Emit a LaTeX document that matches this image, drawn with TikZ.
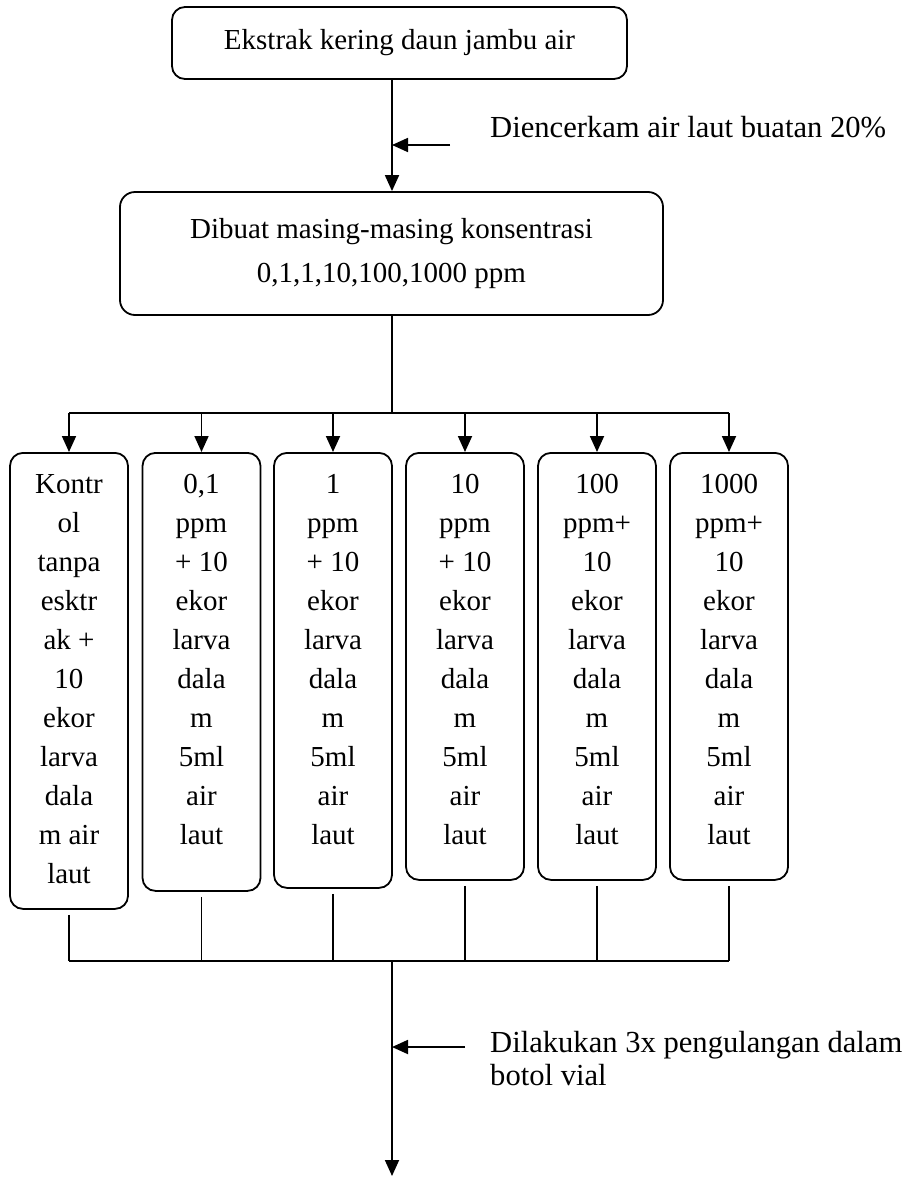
\documentclass[tikz,border=0pt]{standalone}
\usepackage{fontspec}
\setmainfont{Liberation Serif}
\usetikzlibrary{arrows.meta}
\tikzset{
  box/.style={draw, line width=1.8pt, rounded corners=13pt, inner sep=0pt},
  colbox/.style={box, minimum width=118pt, anchor=north},
  coltext/.style={align=center, inner sep=0pt, anchor=north, font=\fontsize{29}{39}\selectfont},
  boxtext/.style={font=\fontsize{29}{44}\selectfont},
  sidetext/.style={font=\fontsize{30.6}{33}\selectfont, align=left, inner sep=0pt},
  conn/.style={line width=1.8pt},
  stub/.style={line width=1.3pt},
  arr/.style={line width=1.8pt, -{Triangle[length=16pt,width=14pt]}},
}
\begin{document}
\begin{tikzpicture}[x=1pt,y=-1pt]
\useasboundingbox (0,0) rectangle (911,1178);

% top box
\node[box, minimum width=455pt, minimum height=72pt, boxtext] (top) at (399.5,43) {Ekstrak kering daun jambu air};
\coordinate (spine) at (392,0);
% second box
\node[box, minimum width=543pt, minimum height=123pt, boxtext, align=center, rounded corners=15pt] (mid) at (391.5,253.5) {Dibuat masing-masing konsentrasi\\0,1,1,10,100,1000 ppm};

\draw[arr] (top.south -| spine) -- (mid.north -| spine);

% side label 1
\node[sidetext, anchor=base west] (lab1) at (490,137) {Diencerkam air laut buatan 20\%};
\coordinate (s1) at (450,145);
\draw[arr] (s1) -- (s1 -| spine);

% distribution
\coordinate (dist) at (392,413);
\draw[conn] (mid.south -| spine) -- (dist);

% column boxes
\node[colbox, minimum height=456pt] (b1) at (69,452) {};
\node[colbox, minimum height=438pt] (b2) at (201.5,452) {};
\node[colbox, minimum height=435pt] (b3) at (333,452) {};
\node[colbox, minimum height=427pt] (b4) at (465,452) {};
\node[colbox, minimum height=427pt] (b5) at (597,452) {};
\node[colbox, minimum height=427pt] (b6) at (729,452) {};

\node[coltext] (t1) at (69,465.7) {\strut Kontr\\ol\\tanpa\\esktr\\ak +\\10\\ekor\\larva\\dala\\m air\\laut};
\node[coltext] (t2) at (201.5,465.7) {\strut 0,1\\ppm\\+ 10\\ekor\\larva\\dala\\m\\5ml\\air\\laut};
\node[coltext] (t3) at (333,465.7) {\strut 1\\ppm\\+ 10\\ekor\\larva\\dala\\m\\5ml\\air\\laut};
\node[coltext] (t4) at (465,465.7) {\strut 10\\ppm\\+ 10\\ekor\\larva\\dala\\m\\5ml\\air\\laut};
\node[coltext] (t5) at (597,465.7) {\strut 100\\ppm+\\10\\ekor\\larva\\dala\\m\\5ml\\air\\laut};
\node[coltext] (t6) at (729,465.7) {\strut 1000\\ppm+\\10\\ekor\\larva\\dala\\m\\5ml\\air\\laut};

\draw[conn] (b1.north |- dist) -- (b6.north |- dist);
\foreach \b in {b1,b2,b3,b4,b5,b6}{
  \draw[arr] (\b.north |- dist) -- (\b.north);
}

% collection
\coordinate (bot) at (392,961);
\draw[conn] (b1.south |- bot) -- (b6.south |- bot);
\foreach \b in {b1,b2,b3,b4,b5,b6}{
  \draw[stub] ([yshift=-5pt]\b.south) -- (\b.south |- bot);
}

\coordinate (end) at (392,1176);
\draw[arr] (bot) -- (end);

% side label 2
\node[sidetext, anchor=base west] (lab2) at (490,1085) {Dilakukan 3x pengulangan dalam\\botol vial};
\coordinate (s2) at (465,1047);
\draw[arr] (s2) -- (s2 -| spine);
\end{tikzpicture}
\end{document}
